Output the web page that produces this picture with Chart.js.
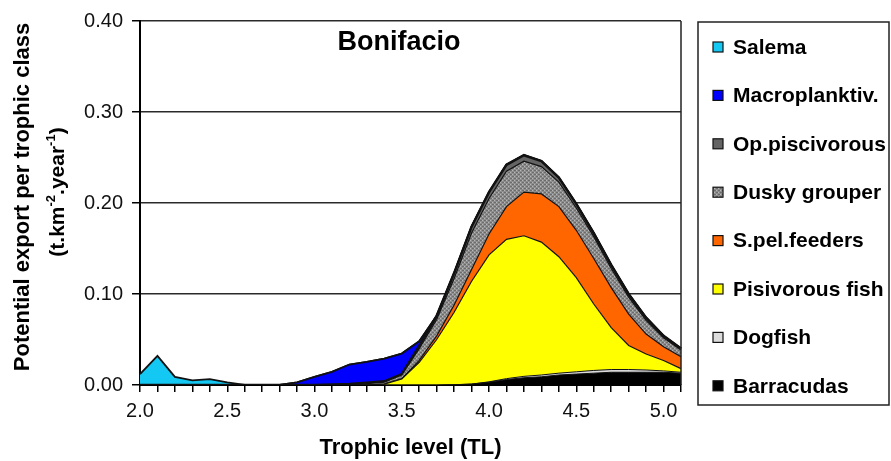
<!DOCTYPE html>
<html>
<head>
<meta charset="utf-8">
<script src="https://cdn.jsdelivr.net/npm/chart.js@4.4.1/dist/chart.umd.min.js"></script>
<style>
  html, body { margin: 0; padding: 0; background: #ffffff; }
  #wrap { width: 891px; height: 461px; position: relative; }
</style>
</head>
<body>
<div id="wrap"><canvas id="chart" width="891" height="461"></canvas></div>
<script>
// Trophic level classes (TL 2.0 .. 5.1, step 0.1)
const trophicLevels = ['2.0','2.1','2.2','2.3','2.4','2.5','2.6','2.7','2.8','2.9',
                       '3.0','3.1','3.2','3.3','3.4','3.5','3.6','3.7','3.8','3.9',
                       '4.0','4.1','4.2','4.3','4.4','4.5','4.6','4.7','4.8','4.9',
                       '5.0','5.1'];
const yTickValues = [0, 0.1, 0.2, 0.3, 0.4];

// Potential export (t.km-2.year-1) per group, stacked bottom to top
const barracudas = [0,0,0,0,0,0,0,0,0,0, 0,0,0,0,0,0,0,0,0.0003,0.001,
                    0.003,0.006,0.008,0.009,0.011,0.012,0.013,0.014,0.014,0.014, 0.014,0.013];
const dogfish    = [0,0,0,0,0,0,0,0,0,0, 0,0,0,0,0,0,0,0,0,0,
                    0.0005,0.001,0.0015,0.002,0.002,0.0025,0.003,0.003,0.003,0.0025, 0.0015,0.001];
const pisivorous = [0,0,0,0,0,0,0,0,0,0, 0,0,0,0,0.001,0.0065,0.025,0.050,0.0797,0.113,
                    0.1395,0.153,0.1545,0.146,0.128,0.1035,0.073,0.046,0.0265,0.0175, 0.0115,0.004];
const spelFeeders = [0,0,0,0,0,0,0,0,0,0, 0,0,0,0,0,0.0005,0.002,0.004,0.008,0.013,
                    0.023,0.036,0.048,0.053,0.055,0.052,0.050,0.044,0.0345,0.022, 0.015,0.013];
const duskyGrouper = [0,0,0,0,0,0,0,0,0,0, 0,0.0003,0.0006,0.0015,0.002,0.004,0.013,0.018,0.029,0.040,
                    0.039,0.039,0.034,0.030,0.027,0.0245,0.024,0.021,0.0185,0.015, 0.010,0.0075];
const opPiscivorous = [0,0,0,0,0,0,0,0,0,0, 0,0.0002,0.0004,0.001,0.001,0.001,0.003,0.004,0.006,0.007,
                    0.007,0.007,0.0065,0.006,0.005,0.0045,0.004,0.004,0.0035,0.003, 0.002,0.0015];
const macroplanktiv = [0,0,0,0,0,0,0,0,0,0.003, 0.009,0.014,0.0215,0.0228,0.025,0.0225,0.005,0,0,0,
                    0,0,0,0,0,0,0,0,0,0, 0,0];
const salema     = [0.012,0.032,0.009,0.005,0.0065,0.003,0,0,0,0, 0,0,0,0,0,0,0,0,0,0,
                    0,0,0,0,0,0,0,0,0,0, 0,0];

const FONT = "'Liberation Sans', Arial, Helvetica, sans-serif";

// Dotted grey fill for the grouper band
function makeDither() {
  const c = document.createElement('canvas');
  c.width = 4; c.height = 4;
  const g = c.getContext('2d');
  g.fillStyle = '#8e8e8e'; g.fillRect(0, 0, 4, 4);
  g.fillStyle = '#6c6c6c'; g.fillRect(0, 0, 2, 1); g.fillRect(2, 2, 2, 1);
  g.fillStyle = '#b8b8b8'; g.fillRect(2, 0, 1, 1); g.fillRect(0, 2, 1, 1);
  return g.createPattern(c, 'repeat');
}
const ctx = document.getElementById('chart').getContext('2d');
const dither = makeDither();

function series(label, data, color, width, fill) {
  return {
    label, data,
    backgroundColor: color,
    borderColor: '#111111',
    borderWidth: width,
    fill,
    pointRadius: 0,
    pointHoverRadius: 0,
    tension: 0
  };
}

const datasets = [
  series('Barracudas', barracudas, '#000000', 1, 'origin'),
  series('Dogfish', dogfish, '#dcdcdc', 1, '-1'),
  series('Pisivorous fish', pisivorous, '#ffff00', 1.2, '-1'),
  series('S.pel.feeders', spelFeeders, '#ff6600', 1.2, '-1'),
  series('Dusky grouper', duskyGrouper, dither, 1.2, '-1'),
  series('Op.piscivorous', opPiscivorous, '#646464', 2.5, '-1'),
  series('Macroplanktiv.', macroplanktiv, '#0000ff', 1.8, '-1'),
  series('Salema', salema, '#14c8f4', 1.8, '-1')
];

// Frame, heading, two-line y title and boxed legend
const decorations = {
  id: 'decorations',
  afterDatasetsDraw(chart) {
    const { ctx, chartArea: a } = chart;
    ctx.save();
    ctx.strokeStyle = '#222222';
    ctx.lineWidth = 1.5;
    ctx.beginPath();
    ctx.moveTo(a.right, a.top);
    ctx.lineTo(a.right, a.bottom);
    ctx.stroke();
    ctx.restore();
  },
  afterDraw(chart) {
    const { ctx } = chart;
    ctx.save();
    // heading
    ctx.fillStyle = '#000000';
    ctx.font = `bold 27px ${FONT}`;
    ctx.textAlign = 'center';
    ctx.textBaseline = 'alphabetic';
    ctx.fillText('Bonifacio', 399, 50);

    // y axis title, two lines with superscripts on the second
    ctx.save();
    ctx.translate(23, 197);
    ctx.rotate(-Math.PI / 2);
    ctx.font = `bold 22px ${FONT}`;
    ctx.textAlign = 'center';
    ctx.textBaseline = 'middle';
    ctx.fillText('Potential export per trophic class', 0, 0);
    ctx.restore();

    ctx.save();
    ctx.translate(58, 192);
    ctx.rotate(-Math.PI / 2);
    const parts = [
      ['(t.km', false], ['-2', true], ['.year', false], ['-1', true], [')', false]
    ];
    const big = `bold 21px ${FONT}`, small = `bold 13px ${FONT}`;
    let total = 0;
    for (const [t, sup] of parts) { ctx.font = sup ? small : big; total += ctx.measureText(t).width; }
    let x = -total / 2;
    ctx.textAlign = 'left';
    ctx.textBaseline = 'middle';
    for (const [t, sup] of parts) {
      ctx.font = sup ? small : big;
      ctx.fillText(t, x, sup ? -7 : 0);
      x += ctx.measureText(t).width;
    }
    ctx.restore();

    // legend box
    ctx.strokeStyle = '#222222';
    ctx.lineWidth = 1.5;
    ctx.strokeRect(698, 22, 191, 383);
    const ds = chart.data.datasets.slice().reverse();
    ctx.font = `bold 21px ${FONT}`;
    ctx.textAlign = 'left';
    ctx.textBaseline = 'middle';
    ds.forEach((d, i) => {
      const cy = 47 + i * 48.4;
      ctx.fillStyle = d.backgroundColor;
      ctx.fillRect(713, cy - 5, 10, 10);
      ctx.lineWidth = 1.2;
      ctx.strokeStyle = '#111111';
      ctx.strokeRect(713, cy - 5, 10, 10);
      ctx.fillStyle = '#000000';
      ctx.fillText(d.label, 733, cy + 1);
    });
    ctx.restore();
  }
};

new Chart(ctx, {
  type: 'line',
  data: { labels: trophicLevels, datasets },
  options: {
    responsive: false,
    animation: false,
    events: [],
    layout: { padding: { left: 0, right: 210, top: 17, bottom: 0 } },
    plugins: {
      legend: { display: false },
      tooltip: { enabled: false },
      title: { display: false }
    },
    scales: {
      x: {
        type: 'category',
        offset: false,
        afterFit(s) { s.height = 76; },
        border: { display: true, color: '#000000', width: 2 },
        grid: { display: true, drawOnChartArea: false, drawTicks: true, tickLength: 7, color: '#000000', lineWidth: 1.5 },
        ticks: {
          autoSkip: false,
          maxRotation: 0,
          minRotation: 0,
          padding: 7,
          color: '#111111',
          font: { family: FONT, size: 20 },
          callback: (v, i) => (i % 5 === 0 ? trophicLevels[i] : '')
        },
        title: {
          display: true,
          text: 'Trophic level (TL)',
          color: '#000000',
          font: { family: FONT, size: 22, weight: 'bold' },
          padding: { top: 0, bottom: 0 }
        }
      },
      y: {
        stacked: true,
        min: 0,
        max: 0.4,
        afterFit(s) { s.width = 140; },
        afterBuildTicks(s) { s.ticks = yTickValues.map(v => ({ value: v })); },
        border: { display: true, color: '#000000', width: 2 },
        grid: { color: '#2a2a2a', lineWidth: 1.5, drawTicks: true, tickLength: 8, tickColor: '#000000' },
        ticks: {
          padding: 9,
          color: '#111111',
          font: { family: FONT, size: 20 },
          callback: v => Number(v).toFixed(2)
        },
        title: { display: false }
      }
    }
  },
  plugins: [decorations]
});
</script>
</body>
</html>
